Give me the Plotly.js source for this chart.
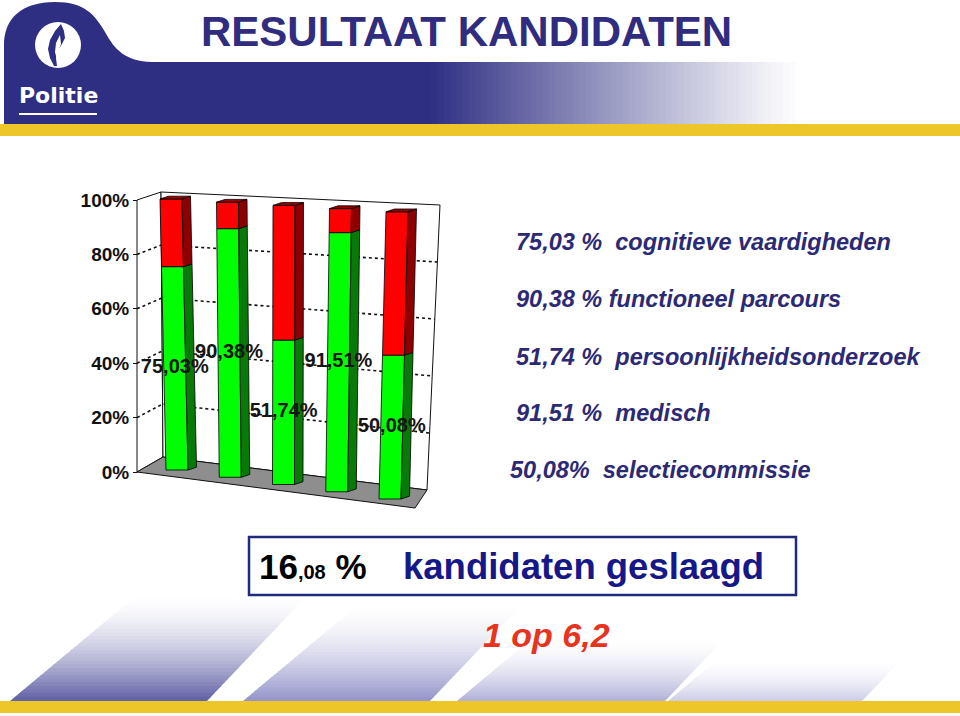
<!DOCTYPE html>
<html><head><meta charset="utf-8">
<script src="https://cdn.plot.ly/plotly-3.0.1.min.js"></script>
<style>html,body{margin:0;padding:0;background:#fff}#chart{width:960px;height:716px}</style>
</head><body><div id="chart"></div>
<script>
// ---------------- data ----------------
const stages = ['cognitieve vaardigheden', 'functioneel parcours', 'persoonlijkheidsonderzoek', 'medisch', 'selectiecommissie'];
const passed = [75.03, 90.38, 51.74, 91.51, 50.08];
const passedLabels = ['75,03%', '90,38%', '51,74%', '91,51%', '50,08%'];
const legendLines = ['75,03 %  cognitieve vaardigheden', '90,38 % functioneel parcours', '51,74 %  persoonlijkheidsonderzoek', '91,51 %  medisch', '50,08%  selectiecommissie'];
const yTicks = [0, 20, 40, 60, 80, 100];
const yTickText = ['0%', '20%', '40%', '60%', '80%', '100%'];
const titleText = 'RESULTAAT KANDIDATEN';
const totalWhole = '16';
const totalDecimals = ',08';
const totalCaption = 'kandidaten geslaagd';
const ratioText = '1 op 6,2';
const failed = passed.map(v => 100 - v);

// ---------------- geometry / style ----------------
const W = 960, H = 716;
const Y0 = 472, K = 2.72;              // px of 0% on the left wall, px per percent
const pct = p => (Y0 - p) / K;        // page px -> percent axis
const PX = x => x / W, PY = y => 1 - y / H;
const FONT = 'Liberation Sans, Arial, sans-serif';
const NAVY = [46, 47, 130];

function mix(rgb, t) {   // t = 1 -> full colour, 0 -> white
  const c = rgb.map(v => Math.round(255 + (v - 255) * t));
  return 'rgb(' + c.join(',') + ')';
}
function path(pts, close = true) {
  return pts.map((p, i) => (i ? 'L' : 'M') + PX(p[0]).toFixed(5) + ',' + PY(p[1]).toFixed(5)).join(' ') + (close ? ' Z' : '');
}
function rect(x0, y0, x1, y1, fill, extra) {
  return Object.assign({type: 'rect', xref: 'paper', yref: 'paper', x0: PX(x0), x1: PX(x1), y0: PY(y1), y1: PY(y0),
    fillcolor: fill, line: {width: 0}, layer: 'below'}, extra || {});
}

const shapes = [];
// ---- header band ----
const NG = 60, GX0 = 430, GX1 = 800;
for (let k = NG - 1; k >= 0; k--) {
  const x0 = GX0 + k * (GX1 - GX0) / NG;
  shapes.push(rect(x0, 62, x0 + (GX1 - GX0) / NG + 1.2, 124, mix(NAVY, Math.pow(1 - (k + 0.5) / NG, 1.1))));
}
shapes.push({type: 'path', xref: 'paper', yref: 'paper', layer: 'below', fillcolor: mix(NAVY, 1), line: {width: 0},
  path: 'M' + PX(4) + ',' + PY(124) + ' L' + PX(4) + ',' + PY(45) +
        ' C' + PX(4) + ',' + PY(18) + ' ' + PX(22) + ',' + PY(2) + ' ' + PX(55) + ',' + PY(2) +
        ' C' + PX(85) + ',' + PY(2) + ' ' + PX(95) + ',' + PY(15) + ' ' + PX(105) + ',' + PY(32) +
        ' C' + PX(115) + ',' + PY(50) + ' ' + PX(125) + ',' + PY(61) + ' ' + PX(152) + ',' + PY(62) +
        ' L' + PX(431) + ',' + PY(62) + ' L' + PX(431) + ',' + PY(124) + ' Z'});
shapes.push(rect(0, 124, 960, 136, '#EDC62A'));
// logo
shapes.push({type: 'circle', xref: 'paper', yref: 'paper', layer: 'above', fillcolor: '#ffffff', line: {width: 0},
  x0: PX(35), x1: PX(81), y0: PY(68), y1: PY(22)});
shapes.push({type: 'path', xref: 'paper', yref: 'paper', layer: 'above', fillcolor: mix(NAVY, 1), line: {width: 0},
  path: path([[61, 24], [55, 31], [50, 40], [48, 49], [50, 58], [54, 66], [57, 66], [56, 58], [58, 50], [62, 44], [65, 38], [64, 31]])});
shapes.push({type: 'path', xref: 'paper', yref: 'paper', layer: 'above', fillcolor: '#ffffff', line: {width: 0},
  path: path([[60, 35], [56, 43], [55, 52], [57, 60], [58, 52], [61, 44]])});
shapes.push({type: 'line', xref: 'paper', yref: 'paper', layer: 'above', x0: PX(19), x1: PX(97), y0: PY(114), y1: PY(114),
  line: {color: '#ffffff', width: 2}});

// ---- bottom decoration ----
const stripes = [
  {a: 10, b: 207, top: 594, rgb: [96, 96, 166]},
  {a: 243, b: 430, top: 604, rgb: [148, 148, 202]},
  {a: 457, b: 665, top: 638, rgb: [178, 178, 218]},
  {a: 668, b: 862, top: 660, rgb: [206, 206, 232]}
];
const NS = 30, YB = 701;
stripes.forEach(s => {
  const h = (YB - s.top) / NS;
  for (let k = NS - 1; k >= 0; k--) {
    const y0 = YB - k * h, y1 = YB - (k + 1) * h - 0.8;
    const dl0 = 1.2 * (YB - y0), dl1 = 1.2 * (YB - y1);
    const dr0 = 0.95 * (YB - y0), dr1 = 0.95 * (YB - y1);
    shapes.push({type: 'path', xref: 'paper', yref: 'paper', layer: 'below',
      fillcolor: mix(s.rgb, Math.pow(1 - (k + 0.5) / NS, 1.7)), line: {width: 0},
      path: path([[s.a + dl0, y0], [s.b + dr0, y0], [s.b + dr1, y1], [s.a + dl1, y1]])});
  }
});
shapes.push(rect(0, 701, 960, 713, '#EDC62A'));
// result box
shapes.push({type: 'rect', xref: 'paper', yref: 'paper', layer: 'above', x0: PX(249), x1: PX(796), y0: PY(595), y1: PY(537),
  fillcolor: 'rgba(255,255,255,0)', line: {color: '#1F2A7C', width: 2.5}});

// ---- 3D frame of the chart (walls, floor, dotted grid) ----
const WALL_L = [[137, 200], [161, 192], [163, 457], [137, 472]];
const WALL_B = [[161, 192], [440, 205], [427, 490], [163, 457]];
const FLOOR = [[137, 472], [163, 457], [427, 490], [415, 508]];
[[WALL_L, '#ffffff'], [WALL_B, '#ffffff'], [FLOOR, '#8E8E8E']].forEach(([pts, c]) => {
  shapes.push({type: 'path', xref: 'paper', yref: 'paper', layer: 'below', fillcolor: c,
    line: {color: '#111', width: 1}, path: path(pts)});
});
yTicks.filter(t => t > 0 && t < 100).forEach(t => {
  const f = t / 100;
  const p0 = [137, Y0 - K * t];
  const p1 = [163 - 2 * f, 457 - 265 * f];
  const p2 = [427 + 13 * f, 490 - 285 * f];
  shapes.push({type: 'path', xref: 'paper', yref: 'paper', layer: 'below',
    line: {color: '#111', width: 1.6, dash: 'dot'}, path: path([p0, p1, p2], false)});
});

// ---------------- bars (pseudo-3D, through x/y axes) ----------------
const BW = 22, DX = 8.5, DY = 2.8 / K;
function geom(i) {
  return {xb: 166 + 53.25 * i, yb: pct(470 + 7.25 * i), xt: 160 + 56.5 * i, yt: pct(199 + 3.2 * i)};
}
function pt(g, f, dx, dy) {
  return [g.xb + f * (g.xt - g.xb) + dx, g.yb + f * (g.yt - g.yb) + (dy || 0)];
}
function poly(pts, fill, name) {
  const xs = pts.map(p => p[0]), ys = pts.map(p => p[1]);
  xs.push(xs[0]); ys.push(ys[0]);
  return {type: 'scatter', mode: 'lines', x: xs, y: ys, fill: 'toself', fillcolor: fill,
    line: {color: '#000', width: 0.8}, hoverinfo: 'skip', showlegend: false, name: name};
}
const traces = [];
passed.forEach((v, i) => {
  const g = geom(i);
  const fv = v / 100;
  const segs = [
    [0, fv, '#00FF00', '#087A08', stages[i] + ' geslaagd'],
    [fv, fv + failed[i] / 100, '#FF0000', '#8E0000', stages[i] + ' niet geslaagd']
  ];
  segs.forEach(([f0, f1, c, cd, nm]) => {
    traces.push(poly([pt(g, f0, 0), pt(g, f0, BW), pt(g, f1, BW), pt(g, f1, 0)], c, nm));
    traces.push(poly([pt(g, f0, BW), pt(g, f0, BW + DX, DY), pt(g, f1, BW + DX, DY), pt(g, f1, BW)], cd, nm));
  });
  traces.push(poly([pt(g, 1, 0), pt(g, 1, BW), pt(g, 1, BW + DX, DY), pt(g, 1, DX, DY)], '#9A0000', stages[i]));
});
// data labels at the middle of each green segment
traces.push({type: 'scatter', mode: 'text', cliponaxis: false, hoverinfo: 'skip', showlegend: false,
  x: passed.map((v, i) => pt(geom(i), v / 200, BW / 2)[0]),
  y: passed.map((v, i) => pt(geom(i), v / 200, BW / 2)[1]),
  text: passedLabels, textposition: 'middle center',
  textfont: {family: FONT, size: 20, color: '#151515', weight: 'bold'}});

// ---------------- annotations (text) ----------------
const ann = [];
ann.push({xref: 'paper', yref: 'paper', x: PX(466), y: PY(31), xanchor: 'center', yanchor: 'middle', showarrow: false,
  text: '<b>' + titleText + '</b>', font: {family: FONT, size: 42, color: '#302C80'}});
ann.push({xref: 'paper', yref: 'paper', x: PX(58), y: PY(95), xanchor: 'center', yanchor: 'middle', showarrow: false,
  text: '<b>Politie</b>', font: {family: 'DejaVu Sans, ' + FONT, size: 22, color: '#ffffff'}});
const legY = [242, 299, 357, 413, 470];
const legX = [514, 514, 514, 514, 508];
legendLines.forEach((t, i) => {
  ann.push({xref: 'paper', yref: 'paper', x: PX(legX[i]), y: PY(legY[i]), xanchor: 'left', yanchor: 'middle', showarrow: false,
    text: '<b><i>' + t + '</i></b>', font: {family: FONT, size: 23.5, color: '#2C2975'}});
});
ann.push({xref: 'paper', yref: 'paper', x: PX(257), y: PY(566), xanchor: 'left', yanchor: 'middle', showarrow: false,
  text: '<b>' + totalWhole + '<span style="font-size:20px">' + totalDecimals + '</span> %</b>',
  font: {family: FONT, size: 35, color: '#000000'}});
ann.push({xref: 'paper', yref: 'paper', x: PX(401), y: PY(566), xanchor: 'left', yanchor: 'middle', showarrow: false,
  text: '<b>' + totalCaption + '</b>', font: {family: FONT, size: 36.5, color: '#16188A'}});
ann.push({xref: 'paper', yref: 'paper', x: PX(546), y: PY(635), xanchor: 'center', yanchor: 'middle', showarrow: false,
  text: '<b><i>' + ratioText + '</i></b>', font: {family: FONT, size: 34, color: '#E8331F'}});

const layout = {
  width: W, height: H, margin: {l: 0, r: 0, t: 0, b: 0},
  paper_bgcolor: '#ffffff', plot_bgcolor: 'rgba(0,0,0,0)', showlegend: false,
  xaxis: {range: [0, W], visible: false, fixedrange: true},
  yaxis: {range: [pct(H), pct(0)], anchor: 'free', position: 137 / W, tickmode: 'array', tickvals: yTicks, ticktext: yTickText,
    showgrid: false, zeroline: false, showline: false, ticks: 'outside', ticklen: 4, tickcolor: '#111',
    tickfont: {family: FONT, size: 19, color: '#111', weight: 'bold'}, fixedrange: true},
  shapes: shapes, annotations: ann
};
Plotly.newPlot('chart', traces, layout, {staticPlot: true, displayModeBar: false});
</script></body></html>
